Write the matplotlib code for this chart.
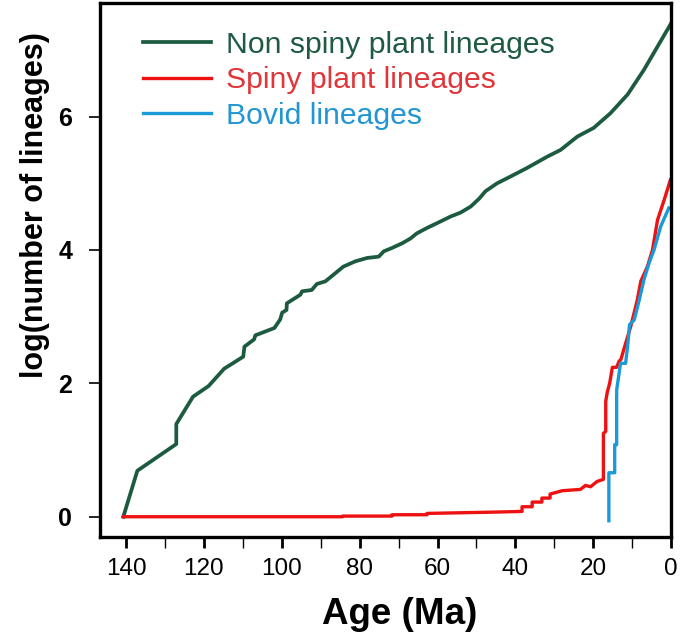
import matplotlib
matplotlib.use('Agg')
import matplotlib.pyplot as plt
from matplotlib.ticker import MultipleLocator

plt.rcParams['font.family'] = ['Liberation Sans', 'DejaVu Sans']

# lineage-through-time curves (age in Ma, log number of lineages)
nonspiny_age = [140.7, 137.1, 127.1, 127.1, 122.8, 118.8, 114.8, 109.9, 109.6, 107.1, 106.8,
                101.9, 100.4, 99.9, 98.8, 98.7, 95.2, 94.8, 92.3, 91.0, 88.8, 86.7, 84.2,
                81.1, 78.1, 75.1, 73.8, 71.7, 69.1, 67.0, 65.3, 62.7, 60.2, 56.7, 54.1,
                51.5, 49.3, 47.7, 44.7, 41.3, 37.0, 31.8, 28.4, 24.1, 19.9, 15.6, 11.2,
                7.0, 3.5, 0.0]
nonspiny_log = [0.0, 0.69, 1.09, 1.39, 1.80, 1.96, 2.22, 2.40, 2.55, 2.66, 2.72,
                2.83, 2.96, 3.06, 3.10, 3.20, 3.33, 3.38, 3.40, 3.49, 3.53, 3.63, 3.75,
                3.83, 3.88, 3.90, 3.98, 4.03, 4.10, 4.17, 4.25, 4.33, 4.40, 4.50, 4.56,
                4.65, 4.77, 4.88, 5.00, 5.10, 5.23, 5.40, 5.50, 5.70, 5.83, 6.05, 6.33,
                6.70, 7.05, 7.40]

spiny_age = [140.7, 84.4, 84.4, 71.7, 71.7, 62.7, 62.7, 45.1, 38.3, 38.3, 35.7, 35.7, 33.2,
             33.2, 31.1, 31.1, 28.0, 23.3, 22.0, 20.7, 19.0, 17.4, 17.4, 16.8, 16.8, 16.4,
             15.8, 15.1, 14.0, 13.4, 12.9, 11.7, 10.4, 8.7, 7.8, 6.1, 4.8, 3.5, 1.8, 0.2]
spiny_log = [0.0, 0.0, 0.01, 0.01, 0.03, 0.03, 0.05, 0.07, 0.08, 0.15, 0.15, 0.22, 0.22,
             0.28, 0.28, 0.34, 0.39, 0.41, 0.47, 0.45, 0.53, 0.56, 1.25, 1.28, 1.73, 1.87,
             2.00, 2.24, 2.24, 2.33, 2.36, 2.60, 2.85, 3.25, 3.53, 3.75, 4.00, 4.45, 4.75,
             5.05]

bovid_age = [16.0, 16.0, 14.5, 14.5, 14.0, 14.0, 13.0, 11.7, 11.1, 10.7, 9.5, 8.2, 7.0,
             5.7, 4.4, 2.7, 0.6]
bovid_log = [-0.06, 0.66, 0.66, 1.08, 1.08, 1.90, 2.30, 2.30, 2.60, 2.88, 2.95, 3.25, 3.55,
             3.80, 4.00, 4.35, 4.63]

labels = ['Non spiny plant lineages', 'Spiny plant lineages', 'Bovid lineages']
line_colors = ['#1d5b40', '#ee1111', '#1a9ad7']
text_colors = ['#1f5a43', '#e0363a', '#2196d3']

fig = plt.figure(figsize=(6.8, 6.39), dpi=100)
ax = fig.add_axes([0.147, 0.160, 0.840, 0.835])

ax.plot(nonspiny_age, nonspiny_log, color=line_colors[0], lw=2.7, label=labels[0])
ax.plot(spiny_age, spiny_log, color=line_colors[1], lw=2.4, label=labels[1])
ax.plot(bovid_age, bovid_log, color=line_colors[2], lw=2.4, label=labels[2])

ax.set_xlim(146.7, 0)
ax.set_ylim(-0.3, 7.7)

for s in ax.spines.values():
    s.set_linewidth(2.4)

ax.xaxis.set_major_locator(MultipleLocator(20))
ax.xaxis.set_minor_locator(MultipleLocator(10))
ax.set_yticks([0, 2, 4, 6])
ax.tick_params(axis='x', which='major', length=8, width=2.0, labelsize=17.5, pad=7.5)
ax.tick_params(axis='x', which='minor', length=8, width=1.0)
ax.tick_params(axis='y', length=8, width=1.2, labelsize=18, pad=12)
for t in ax.get_yticklabels():
    t.set_fontweight('bold')

ax.set_xlabel('Age (Ma)', fontsize=26.5, fontweight='bold')
ax.set_ylabel('log(number of lineages)', fontsize=22, fontweight='bold')
ax.xaxis.set_label_coords(0.525, -0.112)
ax.yaxis.set_label_coords(-0.0876, 0.622)

leg = ax.legend(loc='upper left', bbox_to_anchor=(0.075, 0.948), frameon=False,
                fontsize=21.7, handlelength=2.25, handletextpad=0.5, labelspacing=0.25,
                borderpad=0, borderaxespad=0)
for txt, c in zip(leg.get_texts(), text_colors):
    txt.set_color(c)

fig.savefig('out.png', dpi=100)
